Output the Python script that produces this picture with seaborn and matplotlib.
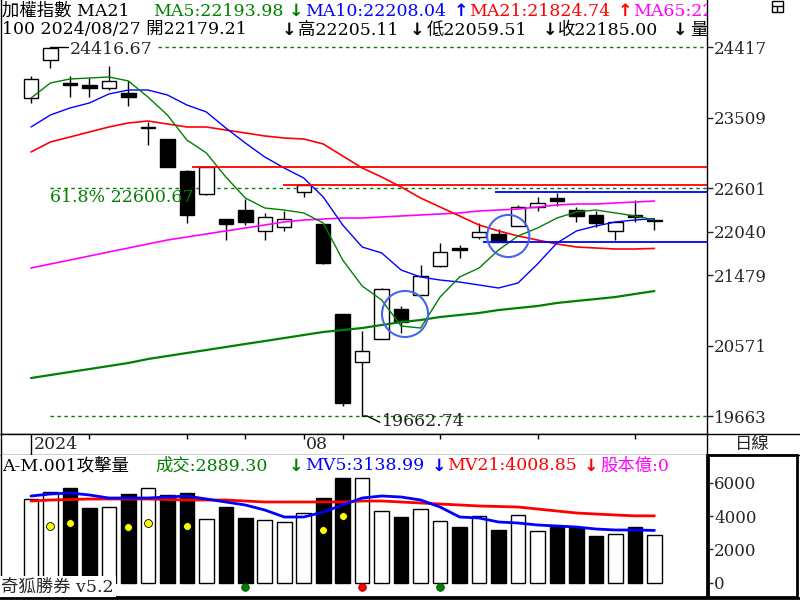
import numpy as np
import pandas as pd
import matplotlib
matplotlib.use('Agg')
import matplotlib.pyplot as plt
import seaborn as sns
from matplotlib.patches import Rectangle
from matplotlib.lines import Line2D

# 加權指數 日線 2024/07/10 ~ 2024/08/27 (7/24, 7/25 颱風休市)
dates = ['2024-07-10', '2024-07-11', '2024-07-12', '2024-07-15', '2024-07-16', '2024-07-17',
         '2024-07-18', '2024-07-19', '2024-07-22', '2024-07-23', '2024-07-26', '2024-07-29',
         '2024-07-30', '2024-07-31', '2024-08-01', '2024-08-02', '2024-08-05', '2024-08-06',
         '2024-08-07', '2024-08-08', '2024-08-09', '2024-08-12', '2024-08-13', '2024-08-14',
         '2024-08-15', '2024-08-16', '2024-08-19', '2024-08-20', '2024-08-21', '2024-08-22',
         '2024-08-23', '2024-08-26', '2024-08-27']
opens = [23765, 24255, 23959, 23933, 23894, 23830, 23380, 23236, 22824, 22527, 22204, 22320,
         22050, 22101, 22553, 22140, 20979, 20360, 20656, 21043, 21224, 21598, 21825, 21972,
         22011, 22114, 22359, 22470, 22320, 22256, 22050, 22255, 22179.21]
highs = [24049, 24416.67, 24049, 24023, 24178, 23985, 23456, 23240, 22830, 22875, 22210, 22462,
         22282, 22308, 22643, 22145, 20985, 20760, 21314, 21082, 21611, 21895, 21869, 22153,
         22075, 22385, 22488, 22540, 22359, 22308, 22170, 22449, 22205.11]
lows = [23701, 24152, 23778, 23778, 23868, 23662, 23159, 22870, 22153, 22520, 21933, 22127,
        21933, 22050, 22488, 21630, 19792, 19662.74, 20650, 20733, 21220, 21590, 21701, 21946,
        21905, 22110, 22308, 22372, 22166, 22101, 21933, 22166, 22059.51]
closes = [24010, 24410, 23933, 23894, 23985, 23778, 23391, 22875, 22256, 22875, 22140, 22166,
          22230, 22204, 22643, 21637, 19831, 20502, 21301, 20875, 21469, 21779, 21810, 22037,
          21908, 22359, 22411, 22440, 22243, 22153, 22166, 22232, 22185.00]

ma5 = [23765, 23959, 24010, 24023, 24036, 23985, 23778, 23546, 23223, 23056, 22746, 22475,
       22346, 22320, 22282, 22153, 21675, 21340, 21159, 20824, 20798, 21198, 21456, 21572,
       21804, 21985, 22088, 22217, 22295, 22320, 22282, 22243, 22193.98]
ma10 = [23391, 23546, 23636, 23701, 23817, 23868, 23868, 23804, 23675, 23585, 23378, 23185,
        23004, 22862, 22733, 22488, 22127, 21843, 21766, 21546, 21456, 21417, 21391, 21353,
        21314, 21379, 21624, 21895, 22050, 22114, 22166, 22191, 22208.04]
ma21 = [23069, 23198, 23262, 23327, 23391, 23443, 23468, 23430, 23391, 23391, 23352, 23314,
        23275, 23249, 23236, 23172, 23017, 22862, 22746, 22617, 22475, 22359, 22243, 22127,
        22050, 21985, 21933, 21882, 21843, 21830, 21817, 21817, 21824.74]
ma65 = [21572, 21624, 21675, 21727, 21779, 21830, 21882, 21933, 21972, 22011, 22050, 22088,
        22127, 22166, 22191, 22204, 22217, 22217, 22230, 22243, 22256, 22269, 22282, 22308,
        22320, 22333, 22359, 22385, 22398, 22398, 22411, 22423, 22436]
ma_long = [20153, 20192, 20231, 20269, 20308, 20347, 20398, 20437, 20476, 20514, 20553, 20592,
           20630, 20669, 20708, 20747, 20772, 20798, 20837, 20875, 20901, 20940, 20966, 20992,
           21030, 21056, 21082, 21121, 21147, 21172, 21198, 21237, 21275]

# 成交量(億)
vol = [5015, 5433, 5672, 4478, 4537, 5313, 5672, 5254, 5373, 3821, 4537, 3881, 3761, 3642,
       4179, 5075, 6270, 6250, 4299, 3940, 4418, 3701, 3343, 4000, 3164, 4060, 3104, 3403,
       3284, 2806, 2925, 3343, 2889.30]
mv5 = [5194, 5313, 5373, 5254, 5075, 5075, 5075, 5134, 5194, 5015, 4836, 4657, 4358, 3940,
       3940, 4239, 4657, 5075, 5194, 5134, 4955, 4537, 3940, 3881, 3642, 3582, 3463, 3403,
       3343, 3224, 3164, 3164, 3138.99]
mv21 = [4895, 4955, 4985, 5015, 5015, 5015, 5015, 4985, 4955, 4955, 4955, 4895, 4836, 4836,
        4836, 4836, 4836, 4895, 4895, 4836, 4776, 4716, 4657, 4597, 4567, 4537, 4418, 4299,
        4179, 4119, 4060, 4009, 4008.85]

# 攻擊量 訊號點
sig_yellow_idx = [1, 2, 5, 6, 8, 15, 16]
sig_yellow_val = [3400, 3580, 3340, 3580, 3400, 3160, 4000]
sig_green_idx = [11, 21]
sig_red_idx = [17]

hi_val = 24416.67
lo_val = 19662.74
fib618 = 22600.67
price_ticks = [24417, 23509, 22601, 22040, 21479, 20571, 19663]
vol_ticks = [0, 2000, 4000, 6000]

# 缺口線 (價位, 起點K棒)
gap_red = [22875, 22643]
gap_red_from = [8.26, 12.92]
gap_blue = [22553, 21904]
gap_blue_from = [23.8, 23.2]
circle_x = [19.2, 24.5]
circle_y = [20979, 21985]

sns.set_style('white')
plt.rcParams['font.family'] = ['DejaVu Serif', 'Noto Sans CJK TC', 'DejaVu Sans']
plt.rcParams['axes.edgecolor'] = 'black'

W, H = 800, 600
def fx(x): return x / W
def fy(y): return 1 - y / H

GREEN, BLUE, RED, MAG = '#008000', '#0000ff', '#ff0000', '#ff00ff'
FS = 12
HFS = 12.5

n = len(dates)
x = np.arange(n)
o = np.array(opens); c = np.array(closes)
up = c >= o

fig = plt.figure(figsize=(8, 6), dpi=100)
ax_p = fig.add_axes([fx(1), fy(434), 706 / W, 434 / H])
ax_d = fig.add_axes([fx(1), fy(455), 706 / W, 21 / H])
ax_v = fig.add_axes([fx(1), fy(597), 706 / W, 142 / H])
x_lo, x_hi = -1.54, 34.70

# ---- 價格 ----
ax_p.vlines(x, lows, highs, color='black', lw=1, zorder=2)
ax_p.bar(x, np.maximum(np.abs(c - o), 12), bottom=np.minimum(o, c), width=0.74,
         color=np.where(up, 'white', 'black'), edgecolor='black', linewidth=1, zorder=3)

for vals, col, lw in [(ma_long, GREEN, 1.6), (ma65, MAG, 1.2), (ma21, RED, 1.2),
                      (ma10, BLUE, 1.0), (ma5, GREEN, 1.0)]:
    sns.lineplot(x=x, y=vals, color=col, lw=lw, ax=ax_p, zorder=4)

dash = (0, (2.5, 2.5))
ax_p.hlines(hi_val, 6.5, x_hi, colors=GREEN, linestyles=dash, lw=1)
ax_p.hlines(fib618, 1.0, x_hi, colors=GREEN, linestyles=dash, lw=1)
ax_p.hlines(lo_val, 1.0, x_hi, colors=GREEN, linestyles=dash, lw=1)
for lv, st in zip(gap_red, gap_red_from):
    ax_p.hlines(lv, st, x_hi, colors=RED, lw=1.3, zorder=4)
for lv, st in zip(gap_blue, gap_blue_from):
    ax_p.hlines(lv, st, x_hi, colors=BLUE, lw=1.3, zorder=4)
ax_p.scatter(circle_x, circle_y, s=[1100, 920], facecolors='none',
             edgecolors='#4466ee', linewidths=1.5, zorder=5)

# 高低點標示
ax_p.plot([1, 1.9], [hi_val, hi_val], color='black', lw=1)
ax_p.plot([17, 17.25, 17.9], [lo_val, lo_val, lo_val - 80], color='black', lw=1)
fig.text(fx(70), fy(49), f'{hi_val:.2f}', fontsize=HFS, va='center')
fig.text(fx(382), fy(422), f'{lo_val:.2f}', fontsize=HFS, va='center')
fig.text(fx(50), fy(197), f'61.8% {fib618:.2f}', fontsize=HFS, va='center', color=GREEN)

ax_p.set_xlim(x_lo, x_hi)
ax_p.set_ylim(19431, 25029)
ax_p.set_xticks([])
ax_p.yaxis.tick_right()
ax_p.set_yticks(price_ticks)
ax_p.set_yticklabels([str(t) for t in price_ticks], fontsize=FS)
ax_p.tick_params(axis='y', length=4, width=1, pad=1, direction='out', right=True)
ax_p.set_xlabel(''); ax_p.set_ylabel('')
ax_p.spines['top'].set_visible(False)
for s in ['left', 'right', 'bottom']:
    ax_p.spines[s].set_linewidth(1)

# 表頭
def seg(ax, xp, yp, s, col='black'):
    ax.text(fx(xp), fy(yp), s, transform=fig.transFigure, fontsize=HFS, va='center',
            color=col, clip_on=True)

def arrow(ax, xp, yp, s, col='black'):
    ax.text(fx(xp), fy(yp), s, transform=fig.transFigure, fontsize=HFS, va='center',
            color=col, clip_on=True, family='DejaVu Sans', weight='bold')

seg(ax_p, 2, 11, '加權指數 MA21')
seg(ax_p, 153, 11, f'MA5:{ma5[-1]:.2f}', GREEN); arrow(ax_p, 289, 11, '↓', GREEN)
seg(ax_p, 305, 11, f'MA10:{ma10[-1]:.2f}', BLUE); arrow(ax_p, 454, 11, '↑', BLUE)
seg(ax_p, 469, 11, f'MA21:{ma21[-1]:.2f}', RED); arrow(ax_p, 618, 11, '↑', RED)
seg(ax_p, 633, 11, f'MA65:{ma65[-1]:.2f}', MAG)
last = pd.to_datetime(dates[-1]).strftime('%Y/%m/%d')
seg(ax_p, 2, 30, f'100 {last} 開{opens[-1]:.2f}'); arrow(ax_p, 282, 30, '↓')
seg(ax_p, 298, 30, f'高{highs[-1]:.2f}'); arrow(ax_p, 410, 30, '↓')
seg(ax_p, 427, 30, f'低{lows[-1]:.2f}'); arrow(ax_p, 543, 30, '↓')
seg(ax_p, 558, 30, f'收{closes[-1]:.2f}'); arrow(ax_p, 673, 30, '↓')
seg(ax_p, 690, 30, '量')

# ---- 日期列 ----
d = pd.to_datetime(dates)
ax_d.set_xlim(x_lo, x_hi)
ax_d.set_ylim(0, 21)
ax_d.set_xticks([]); ax_d.set_yticks([])
ax_d.vlines(0, 0, 21, color='black', lw=1)
ax_d.text(0.12, 10.5, str(d[0].year), fontsize=HFS, va='center')
for i in range(1, n):
    if d[i].dayofweek == 0 or d[i].month != d[i - 1].month:
        ax_d.vlines(i, 16, 21, color='black', lw=1)
        if d[i].month != d[i - 1].month:
            ax_d.text(i + 0.1, 10.5, f'{d[i].month:02d}', fontsize=HFS, va='center')
for s in ax_d.spines.values():
    s.set_linewidth(1)

# ---- 成交量 ----
vdf = pd.DataFrame({'idx': x, 'vol': vol, 'dir': np.where(up, 'up', 'down')})
sns.barplot(data=vdf, x='idx', y='vol', hue='dir', palette={'up': 'white', 'down': 'black'},
            dodge=False, width=0.75, edgecolor='black', linewidth=1, errorbar=None,
            legend=False, ax=ax_v)
sns.lineplot(x=x, y=mv21, color=RED, lw=2, ax=ax_v, zorder=4)
sns.lineplot(x=x, y=mv5, color=BLUE, lw=2, ax=ax_v, zorder=4)
ax_v.scatter(sig_yellow_idx, sig_yellow_val, s=32, color='#ffff00', edgecolors='black',
             linewidths=0.6, zorder=5)
ax_v.scatter(sig_green_idx, [-240] * len(sig_green_idx), s=30, color=GREEN,
             edgecolors='#004400', linewidths=0.6, zorder=5, clip_on=False)
ax_v.scatter(sig_red_idx, [-240] * len(sig_red_idx), s=30, color=RED,
             edgecolors='#880000', linewidths=0.6, zorder=5, clip_on=False)
ax_v.set_xlim(x_lo, x_hi)
ax_v.set_ylim(-836, 7642)
ax_v.set_xticks([])
ax_v.yaxis.tick_right()
ax_v.set_yticks(vol_ticks)
ax_v.set_yticklabels([str(t) for t in vol_ticks], fontsize=FS)
ax_v.tick_params(axis='y', length=4, width=1, pad=1, direction='out', right=True)
ax_v.set_xlabel(''); ax_v.set_ylabel('')
ax_v.spines['top'].set_visible(False)
ax_v.spines['left'].set_linewidth(1)
ax_v.spines['right'].set_linewidth(2)
ax_v.spines['bottom'].set_linewidth(2)

seg(ax_v, 2, 466, 'A-M.001攻擊量')
seg(ax_v, 155, 466, f'成交:{vol[-1]:.2f}', GREEN); arrow(ax_v, 289, 466, '↓', GREEN)
seg(ax_v, 305, 466, f'MV5:{mv5[-1]:.2f}', BLUE); arrow(ax_v, 432, 466, '↓', BLUE)
seg(ax_v, 447, 466, f'MV21:{mv21[-1]:.2f}', RED); arrow(ax_v, 584, 466, '↓', RED)
seg(ax_v, 600, 466, '股本億:0', MAG)
fig.text(fx(1), fy(587), '奇狐勝券 v5.2', fontsize=HFS, va='center', zorder=10,
         bbox=dict(facecolor='white', edgecolor='none', pad=1.5))

# ---- 外框 ----
fig.add_artist(Line2D([0, 1], [fy(598)] * 2, color='black', lw=2, zorder=20))
fig.add_artist(Line2D([fx(707), 1], [fy(434)] * 2, color='black', lw=1))
fig.add_artist(Line2D([fx(707), 1], [fy(455)] * 2, color='black', lw=1))
fig.add_artist(Rectangle((fx(708), fy(597)), 89 / W, 142 / H, fill=False, lw=2,
                         edgecolor='black', transform=fig.transFigure))
fig.text(fx(752), fy(444), '日線', fontsize=HFS, ha='center', va='center')
fig.add_artist(Rectangle((fx(772), fy(12)), 11 / W, 11 / H, fill=False, lw=1,
                         edgecolor='black', transform=fig.transFigure))
fig.add_artist(Line2D([fx(772), fx(783)], [fy(6)] * 2, color='black', lw=1))
fig.add_artist(Line2D([fx(777), fx(777)], [fy(6), fy(12)], color='black', lw=1))

fig.savefig('out.png', dpi=100, facecolor='white')
